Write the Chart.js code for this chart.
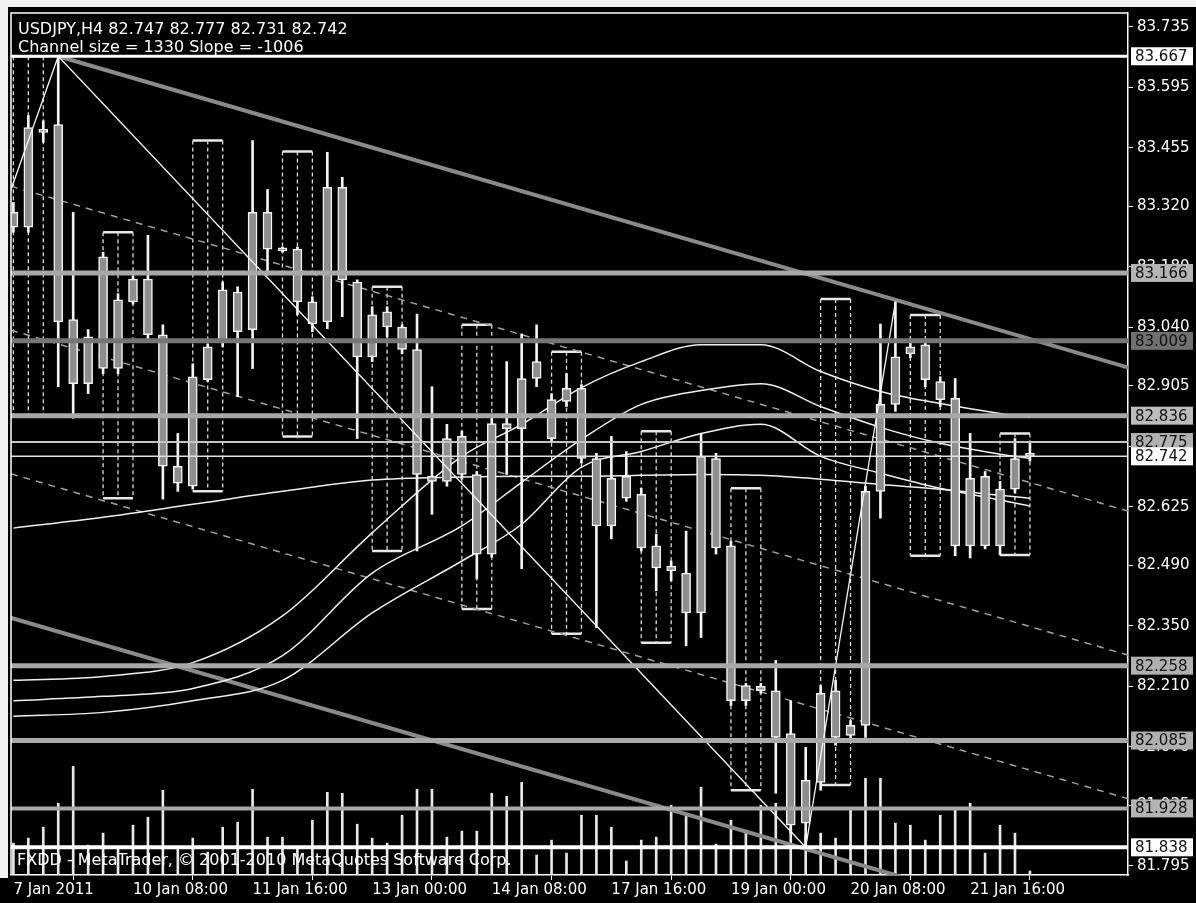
<!DOCTYPE html>
<html lang="en">
<head>
<meta charset="UTF-8">
<title>USDJPY H4</title>
<script src="https://cdn.jsdelivr.net/npm/chart.js"></script>
<style>
  html, body { margin: 0; padding: 0; background: #000; }
  #wrap { width: 1196px; height: 903px; }
</style>
</head>
<body>
<div id="wrap"><canvas id="chart" width="1196" height="903"></canvas></div>
<script>
  // H4 candles, bar 0 = 7 Jan 2011 00:00
  const opens = [83.306, 83.272, 83.498, 83.509, 83.058, 82.910, 82.945, 83.104, 83.099, 83.152,
    83.023, 82.719, 82.673, 82.919, 83.007, 83.030, 83.035, 83.306, 83.223, 83.221,
    83.099, 83.053, 83.364, 83.145, 82.972, 83.076, 83.041, 82.989, 82.696, 82.684,
    82.788, 82.700, 82.516, 82.818, 82.806, 82.922, 82.873, 82.869, 82.899, 82.737,
    82.581, 82.696, 82.654, 82.535, 82.488, 82.472, 82.380, 82.737, 82.535, 82.177,
    82.210, 82.200, 82.101, 81.894, 81.988, 82.200, 82.097, 82.120, 82.661, 82.862,
    82.979, 83.000, 82.915, 82.876, 82.535, 82.696, 82.535, 82.666, 82.747];
  const highs = [83.329, 83.530, 83.518, 83.667, 83.306, 83.035, 83.214, 83.118, 83.159, 83.253,
    83.046, 82.795, 82.956, 83.002, 83.145, 83.134, 83.472, 83.359, 83.226, 83.226,
    83.111, 83.445, 83.387, 83.150, 83.088, 83.088, 83.046, 83.071, 82.903, 82.816,
    82.800, 82.707, 82.830, 82.961, 83.025, 83.046, 82.887, 82.933, 82.908, 82.749,
    82.788, 82.753, 82.668, 82.562, 82.500, 82.569, 82.795, 82.749, 82.546, 82.217,
    82.217, 82.270, 82.177, 82.069, 82.212, 82.224, 82.131, 82.673, 83.048, 83.099,
    83.007, 83.007, 82.926, 82.922, 82.795, 82.707, 82.684, 82.783, 82.777];
  const lows = [83.260, 83.260, 83.468, 82.903, 82.830, 82.887, 82.933, 82.933, 83.094, 83.012,
    82.643, 82.661, 82.666, 82.915, 82.995, 82.880, 82.945, 83.161, 83.214, 83.069,
    83.030, 83.037, 83.065, 82.783, 82.961, 83.018, 82.979, 82.523, 82.608, 82.673,
    82.689, 82.459, 82.509, 82.700, 82.482, 82.903, 82.776, 82.857, 82.726, 82.346,
    82.551, 82.638, 82.523, 82.431, 82.454, 82.304, 82.323, 82.516, 82.166, 82.166,
    82.194, 81.963, 81.871, 81.838, 81.970, 82.074, 82.085, 82.092, 82.599, 82.846,
    82.970, 82.903, 82.857, 82.512, 82.507, 82.528, 82.514, 82.657, 82.731];
  const closes = [83.272, 83.502, 83.491, 83.053, 82.910, 83.018, 83.203, 82.945, 83.152, 83.023,
    82.719, 82.680, 82.926, 82.995, 83.127, 83.122, 83.306, 83.221, 83.217, 83.099,
    83.048, 83.364, 83.150, 82.972, 83.069, 83.041, 82.989, 82.700, 82.684, 82.783,
    82.700, 82.516, 82.818, 82.806, 82.922, 82.961, 82.783, 82.899, 82.737, 82.581,
    82.691, 82.645, 82.530, 82.484, 82.477, 82.380, 82.742, 82.530, 82.177, 82.212,
    82.200, 82.092, 81.889, 81.993, 82.194, 82.092, 82.120, 82.661, 82.862, 82.972,
    82.995, 82.919, 82.873, 82.535, 82.691, 82.535, 82.666, 82.737, 82.742];
  const volumes = [640, 740, 960, 1440, 2180, 600, 840, 560, 1000, 1160,
    1700, 560, 740, 460, 960, 1060, 1720, 760, 760, 560,
    1100, 1660, 1640, 1020, 740, 640, 1200, 1720, 1720, 760,
    880, 880, 1640, 1580, 1860, 400, 700, 440, 1200, 1200,
    960, 280, 700, 760, 1400, 1240, 1760, 620, 1100, 900,
    1400, 1440, 960, 800, 840, 740, 1340, 1940, 1940, 1040,
    1000, 700, 1200, 1340, 1440, 440, 1000, 840, 80];

  // time axis
  const dateTickBars = [0, 8, 16, 24, 32, 40, 48, 56, 64];
  const dateTickLabels = ['7 Jan 2011', '10 Jan 08:00', '11 Jan 16:00', '13 Jan 00:00', '14 Jan 08:00',
    '17 Jan 16:00', '19 Jan 00:00', '20 Jan 08:00', '21 Jan 16:00'];

  // price axis
  const priceTicks = [83.735, 83.595, 83.455, 83.320, 83.180, 83.040, 82.905, 82.765, 82.625,
    82.490, 82.350, 82.210, 82.070, 81.935, 81.795];

  // horizontal levels
  const levelPrices = [83.667, 83.166, 83.009, 82.836, 82.775, 82.742, 82.258, 82.085, 81.928, 81.838];
  const levelColors = ['#ffffff', '#a8a8a8', '#767676', '#a8a8a8', '#c4c4c4', '#e0e0e0', '#a8a8a8', '#a8a8a8', '#a8a8a8', '#ffffff'];
  const levelWidths = [3, 5, 5, 5, 2, 1.5, 5, 5, 4, 4];
  const levelBoxColors = ['#ffffff', '#b4b4b4', '#707070', '#bcbcbc', '#b0b0b0', '#ffffff', '#b0b0b0', '#b0b0b0', '#b4b4b4', '#ffffff'];

  // dashed session boxes: first bar, top, bottom
  const boxStart = [0, 6, 12, 18, 24, 30, 36, 42, 48, 54, 60, 66];
  const boxTop = [83.667, 83.260, 83.472, 83.447, 83.134, 83.046, 82.984, 82.800, 82.668, 83.106, 83.069, 82.795];
  const boxBottom = [82.834, 82.645, 82.661, 82.788, 82.523, 82.389, 82.332, 82.311, 81.970, 81.982, 82.512, 82.514];

  // regression channel (size 1.330)
  const upperChannelBars = [3, 75];
  const upperChannel = [83.667, 82.943];
  const channelBars = [-1, 75];
  const quarterHigh = [83.375, 82.611];
  const midChannel = [83.042, 82.278];
  const quarterLow = [82.710, 81.946];
  const lowerChannel = [82.377, 81.613];

  // zigzag
  const zigzagBars = [-0.2, 3, 53, 59];
  const zigzagPrices = [83.355, 83.667, 81.838, 83.099];

  // moving averages, read at these bars
  const maBars = [0, 6, 12, 18, 24, 30, 34, 38, 42, 46, 50, 54, 58, 62, 66, 68];
  const bandUpper = [82.224, 82.233, 82.265, 82.373, 82.565, 82.742, 82.816, 82.901, 82.961, 83.000, 83.000, 82.938, 82.892, 82.864, 82.841, 82.832];
  const bandMid = [82.177, 82.187, 82.205, 82.281, 82.472, 82.581, 82.682, 82.781, 82.862, 82.894, 82.910, 82.857, 82.809, 82.772, 82.747, 82.737];
  const bandLower = [82.141, 82.150, 82.177, 82.224, 82.380, 82.500, 82.585, 82.717, 82.753, 82.795, 82.816, 82.742, 82.703, 82.668, 82.641, 82.627];
  const maSlow = [82.576, 82.601, 82.631, 82.661, 82.687, 82.694, 82.696, 82.696, 82.698, 82.700, 82.698, 82.689, 82.677, 82.666, 82.652, 82.645];

  const titleText = 'USDJPY,H4 82.747 82.777 82.731 82.742';
  const channelText = 'Channel size = 1330 Slope = -1006';
  const footerText = 'FXDD - MetaTrader, \u00a9 2001-2010 MetaQuotes Software Corp.';

  const xMin = -0.16, xMax = 74.56;

  Chart.defaults.font.family = '"DejaVu Sans", sans-serif';
  Chart.defaults.font.size = 15;
  Chart.defaults.color = '#ffffff';

  const bars = opens.map((_, i) => i);
  const pts = (xs, ys) => xs.map((x, i) => ({ x: x, y: ys[i] }));
  const line = (data, color, width, order, extra) => Object.assign({
    type: 'line', data: data, borderColor: color, borderWidth: width,
    pointRadius: 0, fill: false, order: order
  }, extra || {});

  // dashed verticals and solid caps of the session boxes
  const boxLines = [], boxCaps = [];
  boxStart.forEach((b, k) => {
    for (let j = 0; j < 3; j++) {
      boxLines.push({ x: b + j, y: boxTop[k] }, { x: b + j, y: boxBottom[k] }, { x: b + j, y: null });
    }
    boxCaps.push({ x: b, y: boxTop[k] }, { x: b + 2, y: boxTop[k] }, { x: b + 2, y: null });
    boxCaps.push({ x: b, y: boxBottom[k] }, { x: b + 2, y: boxBottom[k] }, { x: b + 2, y: null });
  });

  const datasets = [
    { type: 'bar', data: bars.map(i => ({ x: i, y: volumes[i] })), yAxisID: 'yv',
      backgroundColor: '#e8e8e8', barThickness: 2, grouped: false, order: 9 },
    line(boxLines, '#dcdcdc', 1.3, 8, { borderDash: [4, 3], spanGaps: false }),
    line(boxCaps, '#e8e8e8', 2.5, 8, { spanGaps: false }),
    line(pts(upperChannelBars, upperChannel), '#8a8a8a', 4, 7),
    line(pts(channelBars, lowerChannel), '#8a8a8a', 4, 7),
    line(pts(channelBars, quarterHigh), '#a0a0a0', 1.5, 7, { borderDash: [7, 6] }),
    line(pts(channelBars, midChannel), '#a0a0a0', 1.5, 7, { borderDash: [7, 6] }),
    line(pts(channelBars, quarterLow), '#a0a0a0', 1.5, 7, { borderDash: [7, 6] }),
    line(pts(maBars, bandUpper), '#f0f0f0', 1.5, 6, { cubicInterpolationMode: 'monotone' }),
    line(pts(maBars, bandMid), '#f0f0f0', 1.5, 6, { cubicInterpolationMode: 'monotone' }),
    line(pts(maBars, bandLower), '#f0f0f0', 1.5, 6, { cubicInterpolationMode: 'monotone' }),
    line(pts(maBars, maSlow), '#f0f0f0', 1.5, 6, { cubicInterpolationMode: 'monotone' }),
    { type: 'bar', data: bars.map(i => ({ x: i, y: [lows[i], highs[i]] })),
      backgroundColor: '#f4f4f4', barThickness: 2, grouped: false, order: 5 },
    { type: 'bar', data: bars.map(i => ({ x: i, y: [opens[i], closes[i]] })),
      backgroundColor: '#8e8e8e', borderColor: '#f4f4f4', borderWidth: 1.5,
      borderSkipped: false, barThickness: 9, minBarLength: 3, grouped: false, order: 4 },
    line(pts(zigzagBars, zigzagPrices), '#f4f4f4', 1.3, 3)
  ];
  levelPrices.forEach((p, k) => {
    datasets.push(line([{ x: xMin - 1, y: p }, { x: xMax + 1, y: p }], levelColors[k], levelWidths[k], 1));
  });

  const mtFrame = {
    id: 'mtFrame',
    beforeDraw(chart) {
      const c = chart.ctx;
      c.save();
      c.fillStyle = '#000';
      c.fillRect(0, 0, chart.width, chart.height);
      c.fillStyle = '#f2f2f2';
      c.fillRect(0, 0, chart.width, 7);
      c.fillRect(0, 0, 8, 878);
      c.restore();
    },
    afterDraw(chart) {
      const c = chart.ctx, a = chart.chartArea, ys = chart.scales.y;
      c.save();
      c.strokeStyle = '#ffffff';
      c.lineWidth = 1.5;
      c.beginPath();
      c.moveTo(a.left, a.bottom);
      c.lineTo(a.left, a.top);
      c.lineTo(a.right, a.top);
      c.stroke();

      c.fillStyle = '#ffffff';
      c.textBaseline = 'middle';
      c.font = '16px "DejaVu Sans"';
      c.fillText(titleText, a.left + 7, a.top + 17);
      c.fillText(channelText, a.left + 7, a.top + 35);
      c.fillText(footerText, a.left + 6, a.bottom - 14);

      c.font = '15px "DejaVu Sans"';
      levelPrices.forEach((p, k) => {
        const y = ys.getPixelForValue(p);
        c.fillStyle = levelBoxColors[k];
        c.fillRect(a.right + 3, y - 9, 62, 18);
        c.fillStyle = '#111111';
        c.fillText(p.toFixed(3), a.right + 7, y + 1);
      });
      c.restore();
    }
  };

  new Chart(document.getElementById('chart'), {
    type: 'bar',
    data: { datasets: datasets },
    options: {
      responsive: false,
      devicePixelRatio: 1,
      animation: false,
      layout: { padding: { left: 11, top: 10, right: 0, bottom: 0 } },
      plugins: { legend: { display: false }, tooltip: { enabled: false } },
      scales: {
        x: {
          type: 'linear', min: xMin, max: xMax, offset: false,
          afterBuildTicks: s => { s.ticks = dateTickBars.map(v => ({ value: v })); },
          afterFit: s => { s.height = 28; },
          ticks: {
            color: '#ffffff', align: 'start', autoSkip: false, maxRotation: 0, padding: 1,
            callback: (v, i) => dateTickLabels[i]
          },
          grid: { drawOnChartArea: false, color: '#ffffff', tickLength: 5 },
          border: { color: '#ffffff', width: 1.5 }
        },
        y: {
          position: 'right', min: 81.774, max: 83.767,
          afterBuildTicks: s => { s.ticks = priceTicks.map(v => ({ value: v })); },
          afterFit: s => { s.width = 68; },
          ticks: { color: '#ffffff', padding: 4, callback: v => v.toFixed(3) },
          grid: { drawOnChartArea: false, color: '#ffffff', tickLength: 5 },
          border: { color: '#ffffff', width: 1.5 }
        },
        yv: { display: false, min: 0, max: 17300 }
      }
    },
    plugins: [mtFrame]
  });
</script>
</body>
</html>
